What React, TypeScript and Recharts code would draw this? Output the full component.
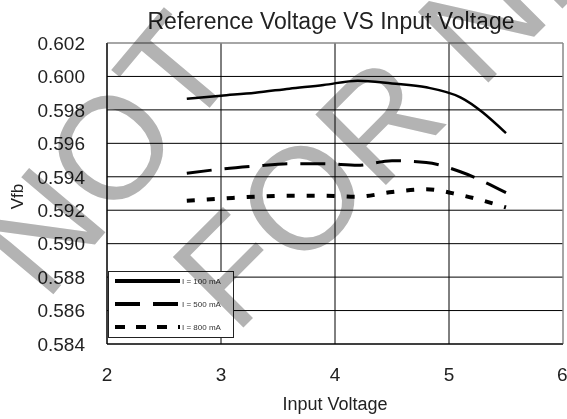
import { LineChart, Line, XAxis, YAxis, CartesianGrid, Legend, ReferenceLine } from "recharts";

const inputVoltage = [2.7, 3.0, 3.3, 3.6, 3.9, 4.2, 4.5, 4.8, 5.1, 5.5];
const vfb100 = [0.59866, 0.59885, 0.59903, 0.59927, 0.59949, 0.59975, 0.59958, 0.59935, 0.59875, 0.59661];
const vfb500 = [0.59421, 0.59446, 0.59464, 0.59478, 0.59478, 0.59469, 0.59496, 0.59486, 0.5943, 0.59305];
const vfb800 = [0.59257, 0.59269, 0.59281, 0.59287, 0.59287, 0.59281, 0.59309, 0.59325, 0.59291, 0.59217];

const xTicks = [2, 3, 4, 5, 6];
const yTicks = [0.584, 0.586, 0.588, 0.59, 0.592, 0.594, 0.596, 0.598, 0.6, 0.602];

const FONT = '"Liberation Sans", Arial, sans-serif';

const series = [
  { key: "i100", name: "I = 100 mA", dash: undefined, width: 2.5, legendDash: undefined },
  { key: "i500", name: "I = 500 mA", dash: "25 13", width: 3, legendDash: "25 13" },
  { key: "i800", name: "I = 800 mA", dash: "8 12", width: 4, legendDash: "10 11" },
];

const data = inputVoltage.map((v, i) => ({
  v,
  i100: vfb100[i],
  i500: vfb500[i],
  i800: vfb800[i],
}));

const LegendBox = () => (
  <div
    style={{
      width: 126,
      height: 67,
      background: "#fff",
      border: "1px solid #222",
      boxSizing: "border-box",
    }}
  >
    <svg width={124} height={65}>
      {series.map((s, i) => (
        <g key={s.key}>
          <line
            x1={6}
            x2={71}
            y1={9 + i * 23}
            y2={9 + i * 23}
            stroke="#000"
            strokeWidth={4}
            strokeDasharray={s.legendDash}
          />
          <text x={73} y={12 + i * 23} fontSize={8} fontFamily={FONT} fill="#333">
            {s.name}
          </text>
        </g>
      ))}
    </svg>
  </div>
);

export default function App() {
  return (
    <div style={{ position: "absolute", left: 0, top: 0, width: 567, height: 419, background: "#fff", fontFamily: FONT }}>
      <div
        style={{
          position: "absolute",
          left: 331,
          top: 8,
          transform: "translateX(-50%)",
          whiteSpace: "nowrap",
          fontSize: 23,
          lineHeight: "26px",
          color: "#222",
        }}
      >
        Reference Voltage VS Input Voltage
      </div>
      <LineChart width={567} height={419} data={data} margin={{ top: 43, right: 4, left: 0, bottom: 0 }}>
        <CartesianGrid
          stroke="#000"
          strokeWidth={1}
          horizontalValues={yTicks.slice(0, -1)}
          verticalValues={xTicks.slice(0, -1)}
        />
        <ReferenceLine y={0.602} stroke="#888" strokeWidth={1.5} />
        <ReferenceLine x={6} stroke="#888" strokeWidth={1.5} />
        <XAxis
          dataKey="v"
          type="number"
          domain={[2, 6]}
          ticks={xTicks}
          height={75}
          tickLine={false}
          tickSize={0}
          tickMargin={24}
          axisLine={{ stroke: "#000" }}
          tick={{ fill: "#222", fontSize: 19, fontFamily: FONT }}
          label={{ value: "Input Voltage", position: "insideBottom", offset: 9, fill: "#222", fontSize: 18, fontFamily: FONT }}
        />
        <YAxis
          type="number"
          domain={[0.584, 0.602]}
          ticks={yTicks}
          width={107}
          tickLine={false}
          tickSize={0}
          tickMargin={22}
          axisLine={{ stroke: "#000" }}
          tickFormatter={(t: number) => t.toFixed(3)}
          tick={{ fill: "#222", fontSize: 19, fontFamily: FONT }}
          label={({ viewBox }: any) => (
            <text
              x={17}
              y={viewBox.y + viewBox.height / 2 + 3}
              transform={`rotate(-90 17 ${viewBox.y + viewBox.height / 2 + 3})`}
              textAnchor="middle"
              dominantBaseline="central"
              fontSize={17}
              fontFamily={FONT}
              fill="#222"
            >
              Vfb
            </text>
          )}
        />
        <Legend
          layout="vertical"
          align="center"
          verticalAlign="middle"
          wrapperStyle={{ left: 108, top: 271, width: 126, height: 67 }}
          content={() => <LegendBox />}
        />
        {series.map((s) => (
          <Line
            key={s.key}
            dataKey={s.key}
            name={s.name}
            type="monotone"
            stroke="#000"
            strokeWidth={s.width}
            strokeDasharray={s.dash}
            dot={false}
            activeDot={false}
            isAnimationActive={false}
          />
        ))}
      </LineChart>
      <svg
        width={567}
        height={419}
        style={{ position: "absolute", left: 0, top: 0, pointerEvents: "none", mixBlendMode: "multiply" }}
      >
        <g fill="#b3b3b3" fontFamily={FONT} fontSize={145}>
          <text x={144} y={186} textAnchor="middle" transform="rotate(-50 144 186)">
            NOT
          </text>
          <text x={235} y={336} textAnchor="start" transform="rotate(-45 235 336)">
            FOR NEW
          </text>
        </g>
      </svg>
    </div>
  );
}
